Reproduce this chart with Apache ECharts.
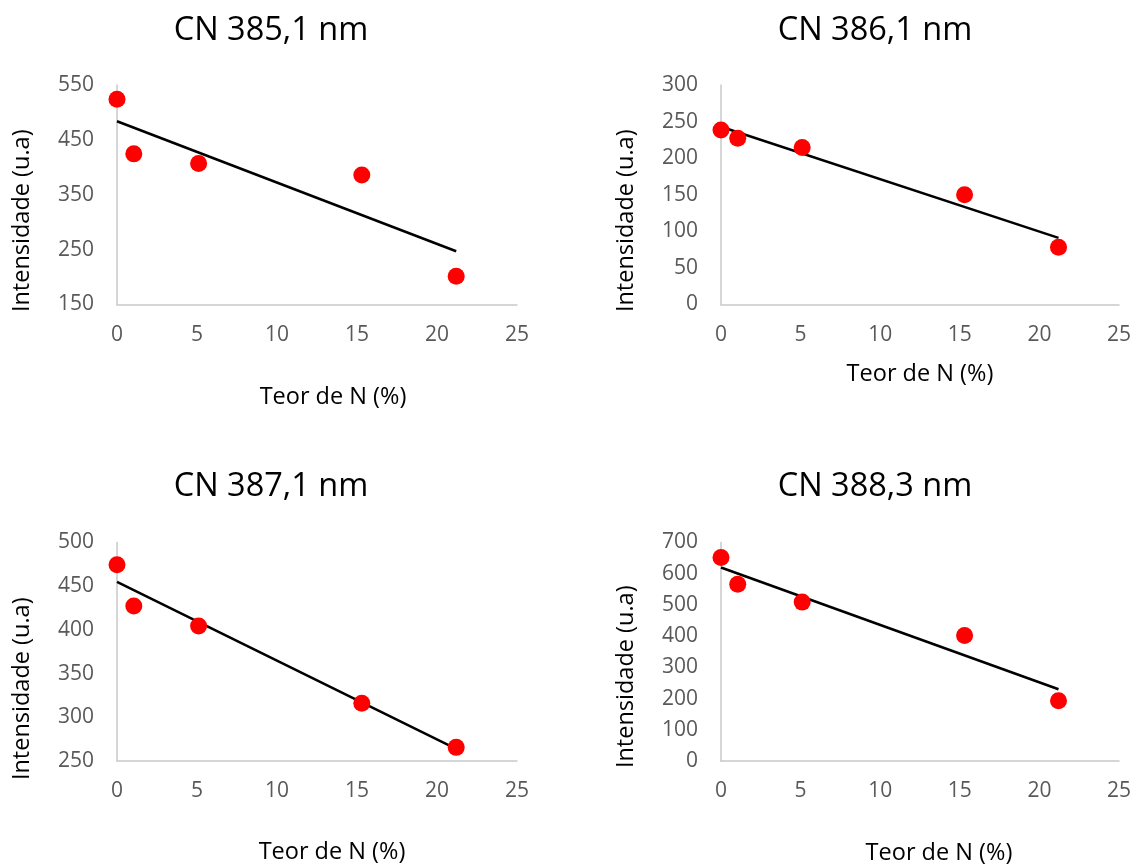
<!DOCTYPE html>
<html>
<head>
<meta charset="utf-8">
<script src="https://cdn.jsdelivr.net/npm/echarts@6/dist/echarts.min.js"></script>
<style>
  html, body { margin: 0; padding: 0; background: #fff; }
  #chart { width: 1134px; height: 866px; }
</style>
</head>
<body>
<div id="chart"></div>
<script>
// teor de N (%) - same x for all four panels
const teorN = [0, 1.05, 5.1, 15.3, 21.2];

// intensidades
const cn3851 = [524, 424.5, 407, 386, 201.5];
const cn3861 = [238.6, 227.3, 214.5, 150, 78.2];
const cn3871 = [474.5, 427.3, 404.5, 316.2, 265.6];
const cn3883 = [652, 566, 509, 402, 193];

// linha de tendência: valor em x=0 e em x=21,2
const trendX = [0, 21.2];
const trend3851 = [484, 247];
const trend3861 = [243, 91];
const trend3871 = [455, 264];
const trend3883 = [620, 230];

const titles = ['CN 385,1 nm', 'CN 386,1 nm', 'CN 387,1 nm', 'CN 388,3 nm'];
const yRanges = [[150, 550, 100], [0, 300, 50], [250, 500, 50], [0, 700, 100]];

const FONT = 'Open Sans';
const panels = [
  { left: 117, top: 85, height: 219.5, xNameGap: 81, xShift: 16, yShift: 26, titleX: 271, titleTop: 14 },
  { left: 721, top: 85, height: 219.5, xNameGap: 58, xShift: 0, yShift: 26, titleX: 875, titleTop: 14 },
  { left: 117, top: 542.5, height: 218.5, xNameGap: 79, xShift: 15, yShift: 37, titleX: 271, titleTop: 470 },
  { left: 721, top: 542.5, height: 218.5, xNameGap: 80, xShift: 19, yShift: 25, titleX: 875, titleTop: 470 }
];
const values = [cn3851, cn3861, cn3871, cn3883];
const trends = [trend3851, trend3861, trend3871, trend3883];

const axisLine = { show: true, lineStyle: { color: '#c9c9c9', width: 1.5 } };

const option = {
  backgroundColor: '#fff',
  animation: false,
  title: panels.map((p, i) => ({
    text: titles[i],
    left: p.titleX,
    top: p.titleTop,
    textAlign: 'center',
    padding: 0,
    textStyle: { fontFamily: FONT, fontSize: 32.5, fontWeight: 'normal', color: '#000' }
  })),
  grid: panels.map(p => ({ left: p.left, top: p.top, width: 400, height: p.height })),
  xAxis: panels.map((p, i) => ({
    type: 'value',
    gridIndex: i,
    min: 0,
    max: 25,
    interval: 5,
    name: 'Teor de N (%)',
    nameLocation: 'middle',
    nameGap: p.xNameGap,
    nameTextStyle: {
      fontFamily: FONT, fontSize: 23.5, color: '#000',
      padding: [0, 0, 0, p.xShift * 2]
    },
    axisLine: axisLine,
    axisTick: { show: false },
    splitLine: { show: false },
    axisLabel: { fontFamily: FONT, fontSize: 21, color: '#595959', margin: 20 }
  })),
  yAxis: panels.map((p, i) => ({
    type: 'value',
    gridIndex: i,
    min: yRanges[i][0],
    max: yRanges[i][1],
    interval: yRanges[i][2],
    name: 'Intensidade (u.a)',
    nameLocation: 'middle',
    nameGap: 83,
    nameTextStyle: {
      fontFamily: FONT, fontSize: 23.5, color: '#000',
      padding: [0, p.yShift * 2, 0, 0]
    },
    axisLine: axisLine,
    axisTick: { show: false },
    splitLine: { show: false },
    axisLabel: { fontFamily: FONT, fontSize: 21, color: '#595959', margin: 23 }
  })),
  series: []
};

panels.forEach((p, i) => {
  option.series.push({
    type: 'line',
    xAxisIndex: i,
    yAxisIndex: i,
    data: trendX.map((x, k) => [x, trends[i][k]]),
    showSymbol: false,
    symbol: 'none',
    lineStyle: { color: '#000', width: 2.5 },
    z: 2
  });
  option.series.push({
    type: 'scatter',
    xAxisIndex: i,
    yAxisIndex: i,
    data: teorN.map((x, k) => [x, values[i][k]]),
    symbolSize: 17,
    itemStyle: { color: '#ff0000', opacity: 1 },
    z: 3
  });
});

const chart = echarts.init(document.getElementById('chart'));
chart.setOption(option);
</script>
</body>
</html>
